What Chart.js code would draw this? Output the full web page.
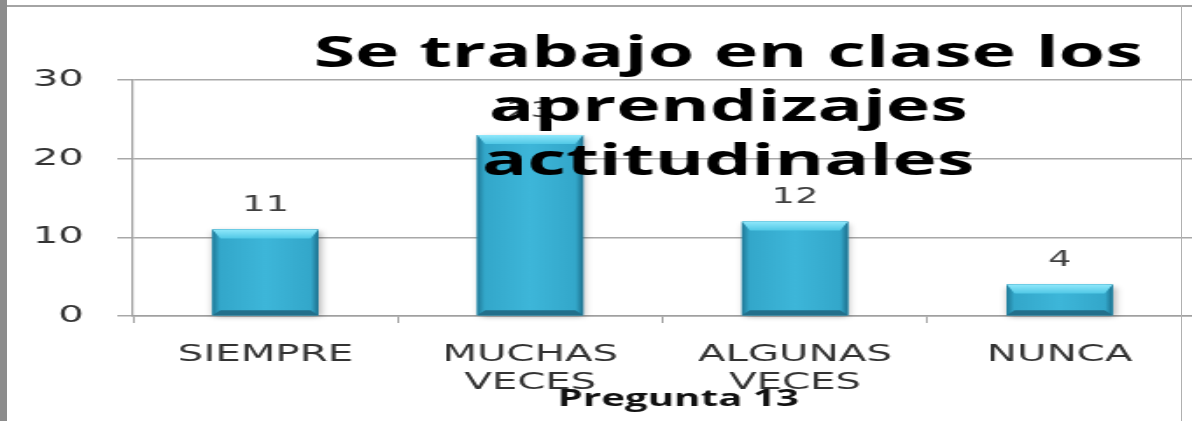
<!DOCTYPE html>
<html>
<head>
<meta charset="utf-8">
<script src="https://cdn.jsdelivr.net/npm/chart.js@4/dist/chart.umd.min.js"></script>
<style>
    html, body { margin: 0; padding: 0; background: #fff; overflow: hidden; }
    #wrap { position: relative; width: 1192px; height: 421px; overflow: hidden; background: #fff; }
    /* the original picture is stretched sideways, so the canvas is too */
    #chart { position: absolute; left: 0; top: 0; transform-origin: 0 0; transform: scaleX(1.7504); }
    .edge { position: absolute; background: #9a9a9a; }
</style>
</head>
<body>
<div id="wrap">
    <canvas id="chart" width="681" height="421"></canvas>
    <div class="edge" style="left:0;top:0;width:7px;height:421px;background:#8c8c8c"></div>
    <div class="edge" style="left:7px;top:5px;width:1185px;height:2px;background:#a4a4a4"></div>
    <div class="edge" style="left:1181px;top:5px;width:1px;height:416px;background:#b0b0b0"></div>
</div>
<script>
const categories = [["SIEMPRE"], ["MUCHAS", "VECES"], ["ALGUNAS", "VECES"], ["NUNCA"]];
const respuestas = [11, 23, 12, 4];
const yTicks = [0, 10, 20, 30];
const titleLines = ["Se trabajo en clase los", "aprendizajes", "actitudinales"];
const axisTitle = "Pregunta 13";

// bevel look of the excel bars + value labels
const barLook = {
    id: "barLook",
    beforeDatasetsDraw(chart) {
        const ctx = chart.ctx;
        ctx.save();
        ctx.shadowColor = "rgba(0,0,0,0.35)";
        ctx.shadowBlur = 5;
        ctx.shadowOffsetX = 1;
        ctx.shadowOffsetY = 2;
        ctx.fillStyle = "#2a8fb0";
        chart.getDatasetMeta(0).data.forEach(bar => {
            ctx.fillRect(bar.x - bar.width / 2, bar.y, bar.width, bar.base - bar.y);
        });
        ctx.restore();
    },
    afterDatasetsDraw(chart) {
        const ctx = chart.ctx;
        ctx.save();
        chart.getDatasetMeta(0).data.forEach((bar, i) => {
            const l = bar.x - bar.width / 2, r = bar.x + bar.width / 2;
            const t = bar.y, b = bar.base;
            const bx = 4.5, by = Math.min(9, (b - t) / 3), bb = Math.min(5, (b - t) / 5);

            const face = ctx.createLinearGradient(l, 0, r, 0);
            face.addColorStop(0, "#1f7896");
            face.addColorStop(0.07, "#33a7ca");
            face.addColorStop(0.5, "#3db6d9");
            face.addColorStop(0.93, "#33a7ca");
            face.addColorStop(1, "#1c6f8c");
            ctx.fillStyle = face;
            ctx.fillRect(l, t, r - l, b - t);

            const top = ctx.createLinearGradient(0, t, 0, t + by);
            top.addColorStop(0, "#90e8fb");
            top.addColorStop(1, "#50c8e6");
            ctx.fillStyle = top;
            ctx.beginPath();
            ctx.moveTo(l, t); ctx.lineTo(r, t);
            ctx.lineTo(r - bx, t + by); ctx.lineTo(l + bx, t + by);
            ctx.closePath(); ctx.fill();

            ctx.fillStyle = "#226f8b";
            ctx.beginPath();
            ctx.moveTo(l, b); ctx.lineTo(r, b);
            ctx.lineTo(r - bx, b - bb); ctx.lineTo(l + bx, b - bb);
            ctx.closePath(); ctx.fill();

            ctx.fillStyle = "#404040";
            ctx.font = "21px 'DejaVu Sans'";
            ctx.textAlign = "center";
            ctx.textBaseline = "middle";
            ctx.fillText(String(respuestas[i]), bar.x, t - 24);
        });
        ctx.restore();
    },
    afterDraw(chart) {
        const ctx = chart.ctx;
        ctx.save();
        ctx.fillStyle = "#000";
        ctx.font = "bold 43px 'Open Sans'";
        ctx.textAlign = "center";
        ctx.textBaseline = "alphabetic";
        const cx = 416;
        [67, 121, 175].forEach((y, i) => ctx.fillText(titleLines[i], cx, y));
        ctx.restore();
    }
};

new Chart(document.getElementById("chart"), {
    type: "bar",
    data: {
        labels: categories,
        datasets: [{
            label: axisTitle,
            data: respuestas,
            backgroundColor: "#3ab0d2",
            borderWidth: 0,
            categoryPercentage: 1,
            barPercentage: 0.4
        }]
    },
    plugins: [barLook],
    options: {
        responsive: false,
        animation: false,
        devicePixelRatio: 1,
        layout: { padding: { top: 80, right: 0, left: 0, bottom: 0 } },
        plugins: {
            legend: { display: false },
            title: { display: false },
            tooltip: { enabled: false }
        },
        scales: {
            x: {
                afterFit: scale => { scale.height = 105; },
                grid: { drawOnChartArea: false, tickLength: 7, color: "#a0a0a0", lineWidth: 1 },
                border: { color: "#a0a0a0", width: 1.5 },
                ticks: {
                    color: "#333",
                    padding: 18,
                    font: { family: "DejaVu Sans", size: 23, lineHeight: 1.22 }
                },
                title: {
                    display: true,
                    text: "\u00a0\u00a0\u00a0" + axisTitle,
                    color: "#111",
                    font: { family: "Open Sans", weight: "bold", size: 23, lineHeight: 1.2 },
                    padding: { top: 0, bottom: 8 }
                }
            },
            y: {
                min: 0,
                max: 30,
                afterFit: scale => { scale.width = 76; },
                afterBuildTicks: scale => { scale.ticks = yTicks.map(v => ({ value: v })); },
                grid: { color: "#a8a8a8", lineWidth: 1.5, tickLength: 9 },
                border: { color: "#a0a0a0", width: 1.2 },
                ticks: {
                    color: "#333",
                    padding: 19,
                    font: { family: "DejaVu Sans", size: 23 }
                }
            }
        }
    }
});
</script>
</body>
</html>
